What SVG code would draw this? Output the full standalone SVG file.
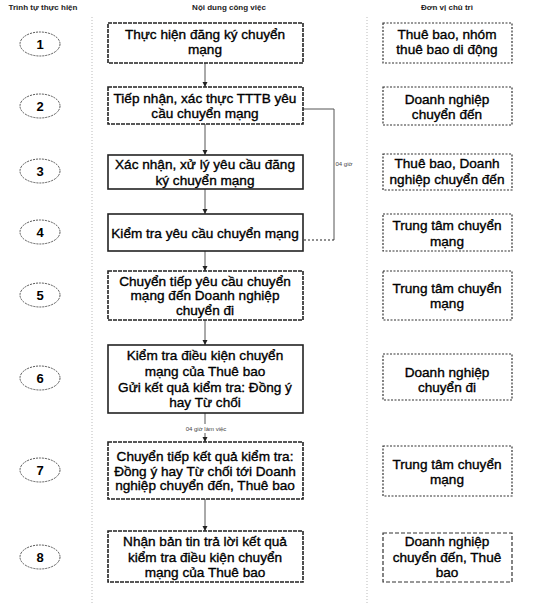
<svg xmlns="http://www.w3.org/2000/svg" width="536" height="605" viewBox="0 0 536 605">
<style>
.hdr{font-family:"Liberation Sans",Arial,sans-serif;font-size:8px;font-weight:bold;fill:#222;text-anchor:middle}
.t{font-family:"Liberation Sans",Arial,sans-serif;font-size:13.6px;fill:#000;stroke:#000;stroke-width:0.35;text-anchor:middle}
.num{font-family:"Liberation Sans",Arial,sans-serif;font-size:13px;font-weight:bold;fill:#000;text-anchor:middle}
.sm{font-family:"Liberation Sans",Arial,sans-serif;font-size:6px;fill:#444;text-anchor:middle}
.ell{fill:#fff;stroke:#555;stroke-width:1;stroke-dasharray:2,1}
.mb{fill:#fff;stroke:#222;stroke-width:1.6}
.mbd{fill:#fff;stroke:#222;stroke-width:1.6;stroke-dasharray:4,1}
.rb{fill:#fff;stroke:#333;stroke-width:1.2;stroke-dasharray:2,1.5}
.sep{stroke:#bbb;stroke-width:1;stroke-dasharray:1,2;fill:none}
.ln{stroke:#555;stroke-width:1;fill:none}
.dot{stroke:#222;stroke-width:1.2;stroke-dasharray:2,2;fill:none}
</style>
<defs>
<marker id="ah" markerWidth="6" markerHeight="6" refX="5" refY="3" orient="auto" markerUnits="userSpaceOnUse">
<path d="M0,0.5 L5,3 L0,5.5 z" fill="#222"/>
</marker>
</defs>
<rect width="536" height="605" fill="#fff"/>
<g id="headers">
<text class="hdr" x="43" y="10">Trình tự thực hiện</text>
<text class="hdr" x="229" y="10">Nội dung công việc</text>
<text class="hdr" x="447" y="10">Đơn vị chủ trì</text>
</g>
<g id="separators">
<line class="sep" x1="92" y1="17" x2="92" y2="605"/>
<line class="sep" x1="367" y1="17" x2="367" y2="605"/>
</g>
<g id="connectors">
<line class="ln" x1="205" y1="63" x2="205" y2="87" marker-end="url(#ah)"/>
<line class="ln" x1="205" y1="124" x2="205" y2="155" marker-end="url(#ah)"/>
<line class="ln" x1="205" y1="189" x2="205" y2="214" marker-end="url(#ah)"/>
<line class="ln" x1="205" y1="251" x2="205" y2="271" marker-end="url(#ah)"/>
<line class="ln" x1="205" y1="320" x2="205" y2="345" marker-end="url(#ah)"/>
<line class="ln" x1="205" y1="413" x2="205" y2="424"/>
<line class="ln" x1="205" y1="433" x2="205" y2="442" marker-end="url(#ah)"/>
<line class="ln" x1="205" y1="499" x2="205" y2="531" marker-end="url(#ah)"/>
<polyline class="ln" points="303,109 334,109 334,240"/>
<line class="dot" x1="334" y1="240" x2="303" y2="240"/>
<text class="sm" x="344" y="166">04 giờ</text>
<text class="sm" x="206" y="431">04 giờ làm việc</text>
</g>
<g id="step1">
<ellipse class="ell" cx="40" cy="44" rx="20" ry="12"/><text class="num" x="40" y="49">1</text>
</g>
<g id="step2">
<ellipse class="ell" cx="40" cy="106" rx="20" ry="12"/><text class="num" x="40" y="111">2</text>
</g>
<g id="step3">
<ellipse class="ell" cx="40" cy="171" rx="20" ry="12"/><text class="num" x="40" y="176">3</text>
</g>
<g id="step4">
<ellipse class="ell" cx="40" cy="232" rx="20" ry="12"/><text class="num" x="40" y="237">4</text>
</g>
<g id="step5">
<ellipse class="ell" cx="40" cy="295" rx="20" ry="12"/><text class="num" x="40" y="300">5</text>
</g>
<g id="step6">
<ellipse class="ell" cx="40" cy="378" rx="20" ry="12"/><text class="num" x="40" y="383">6</text>
</g>
<g id="step7">
<ellipse class="ell" cx="40" cy="470" rx="20" ry="12"/><text class="num" x="40" y="475">7</text>
</g>
<g id="step8">
<ellipse class="ell" cx="40" cy="557" rx="20" ry="12"/><text class="num" x="40" y="562">8</text>
</g>
<g id="task1">
<rect class="mbd" x="108" y="23" width="195" height="40"/>
<text class="t" x="205" y="39">Thực hiện đăng ký chuyển</text>
<text class="t" x="205" y="54">mạng</text>
</g>
<g id="task2">
<rect class="mbd" x="108" y="87" width="195" height="37"/>
<text class="t" x="205" y="103">Tiếp nhận, xác thực TTTB yêu</text>
<text class="t" x="205" y="118">cầu chuyển mạng</text>
</g>
<g id="task3">
<rect class="mb" x="108" y="155" width="195" height="34"/>
<text class="t" x="205" y="169">Xác nhận, xử lý yêu cầu đăng</text>
<text class="t" x="205" y="185">ký chuyển mạng</text>
</g>
<g id="task4">
<rect class="mb" x="108" y="214" width="195" height="37"/>
<text class="t" x="205" y="238">Kiểm tra yêu cầu chuyển mạng</text>
</g>
<g id="task5">
<rect class="mbd" x="108" y="271" width="195" height="49"/>
<text class="t" x="205" y="286">Chuyển tiếp yêu cầu chuyển</text>
<text class="t" x="205" y="300">mạng đến Doanh nghiệp</text>
<text class="t" x="205" y="315">chuyển đi</text>
</g>
<g id="task6">
<rect class="mb" x="108" y="345" width="195" height="68"/>
<text class="t" x="205" y="360">Kiểm tra điều kiện chuyển</text>
<text class="t" x="205" y="376">mạng của Thuê bao</text>
<text class="t" x="205" y="392">Gửi kết quả kiểm tra: Đồng ý</text>
<text class="t" x="205" y="407">hay Từ chối</text>
</g>
<g id="task7">
<rect class="mbd" x="108" y="442" width="195" height="57"/>
<text class="t" x="205" y="461">Chuyển tiếp kết quả kiểm tra:</text>
<text class="t" x="205" y="476">Đồng ý hay Từ chối tới Doanh</text>
<text class="t" x="205" y="490">nghiệp chuyển đến, Thuê bao</text>
</g>
<g id="task8">
<rect class="mbd" x="108" y="531" width="195" height="51"/>
<text class="t" x="205" y="546">Nhận bản tin trả lời kết quả</text>
<text class="t" x="205" y="562">kiểm tra điều kiện chuyển</text>
<text class="t" x="205" y="577">mạng của Thuê bao</text>
</g>
<g id="unit1">
<rect class="rb" x="383" y="23" width="129" height="40"/>
<text class="t" x="447" y="39">Thuê bao, nhóm</text>
<text class="t" x="447" y="54">thuê bao di động</text>
</g>
<g id="unit2">
<rect class="rb" x="383" y="87" width="129" height="38"/>
<text class="t" x="447" y="104">Doanh nghiệp</text>
<text class="t" x="447" y="119">chuyển đến</text>
</g>
<g id="unit3">
<rect class="rb" x="383" y="154" width="129" height="36"/>
<text class="t" x="447" y="168">Thuê bao, Doanh</text>
<text class="t" x="447" y="184">nghiệp chuyển đến</text>
</g>
<g id="unit4">
<rect class="rb" x="383" y="214" width="129" height="37"/>
<text class="t" x="447" y="230">Trung tâm chuyển</text>
<text class="t" x="447" y="246">mạng</text>
</g>
<g id="unit5">
<rect class="rb" x="383" y="271" width="129" height="49"/>
<text class="t" x="447" y="293">Trung tâm chuyển</text>
<text class="t" x="447" y="308">mạng</text>
</g>
<g id="unit6">
<rect class="rb" x="383" y="354" width="129" height="46"/>
<text class="t" x="447" y="377">Doanh nghiệp</text>
<text class="t" x="447" y="392">chuyển đi</text>
</g>
<g id="unit7">
<rect class="rb" x="383" y="446" width="129" height="50"/>
<text class="t" x="447" y="469">Trung tâm chuyển</text>
<text class="t" x="447" y="484">mạng</text>
</g>
<g id="unit8">
<rect class="rb" x="383" y="533" width="129" height="49" style="stroke-dasharray:4,2"/>
<text class="t" x="447" y="546">Doanh nghiệp</text>
<text class="t" x="447" y="562">chuyển đến, Thuê</text>
<text class="t" x="447" y="577">bao</text>
</g>
</svg>
